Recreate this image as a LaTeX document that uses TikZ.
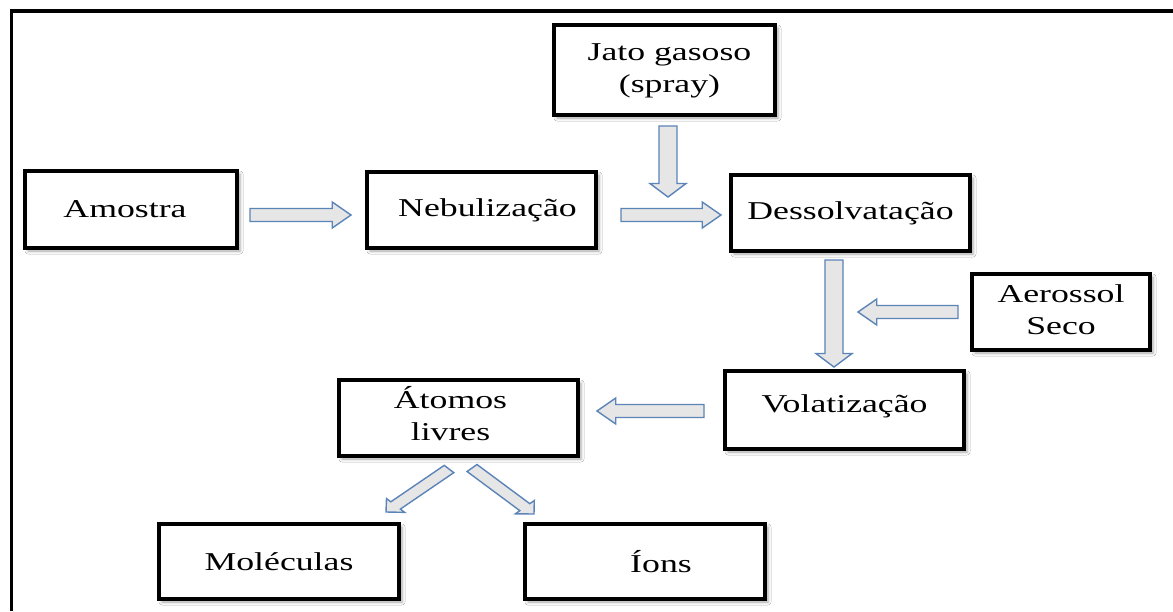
\documentclass[tikz,border=0pt]{standalone}
\usepackage{fontspec}
\usepackage{graphicx}
\setmainfont{Liberation Serif}
\usetikzlibrary{calc,shadows.blur}
\definecolor{arrowfill}{HTML}{E6E6E6}
\definecolor{arrowline}{HTML}{5B84B8}
\newcommand\wide[1]{\scalebox{1.39}[1]{#1}}
\tikzset{
  box/.style={draw=black, line width=4pt, fill=white,
    blur shadow={shadow xshift=3pt, shadow yshift=-3pt, shadow blur radius=3pt, shadow opacity=35},
    inner sep=0pt, font=\fontsize{25.7}{32}\selectfont},
  barrow/.style={fill=arrowfill, draw=arrowline, line width=1.4pt, line join=miter},
}
% #1 start, #2 end, #3 shaft half width, #4 head half width, #5 head length
\newcommand\blockarrow[5]{%
 \filldraw[barrow] let \p1=(#1), \p2=(#2),
  \n1={(\x2-\x1)/1.39}, \n2={\y2-\y1}, \n3={veclen(\n1,\n2)},
  \n4={(\n1)/(\n3)}, \n5={(\n2)/(\n3)}, \n6={\n3-(#5)} in
  ({\x1-1.39*(#3)*(\n5)}, {\y1+(#3)*(\n4)})
  -- ({\x1+1.39*((\n6)*(\n4)-(#3)*(\n5))}, {\y1+(\n6)*(\n5)+(#3)*(\n4)})
  -- ({\x1+1.39*((\n6)*(\n4)-(#4)*(\n5))}, {\y1+(\n6)*(\n5)+(#4)*(\n4)})
  -- (\p2)
  -- ({\x1+1.39*((\n6)*(\n4)+(#4)*(\n5))}, {\y1+(\n6)*(\n5)-(#4)*(\n4)})
  -- ({\x1+1.39*((\n6)*(\n4)+(#3)*(\n5))}, {\y1+(\n6)*(\n5)-(#3)*(\n4)})
  -- ({\x1+1.39*(#3)*(\n5)}, {\y1-(#3)*(\n4)}) -- cycle;}
\begin{document}
\begin{tikzpicture}[x=1pt,y=1pt]
\useasboundingbox (0,0) rectangle (1173,-611);
\fill[white] (0,0) rectangle (1173,-611);
\draw[line width=3.5pt] (11.5,-611) |- (1173,-11);

\node[box, minimum width=212, minimum height=77] (amostra) at (131,-209.5) {\wide{Amostra}\hspace*{12pt}};
\node[box, minimum width=229, minimum height=76] (nebul) at (481.5,-210) {\hspace*{12pt}\wide{Nebulização}};
\node[box, minimum width=221, minimum height=90] (jato) at (664.5,-70) {\hspace*{10pt}\wide{\begin{tabular}{@{}c@{}}Jato gasoso\\(spray)\end{tabular}}};
\node[box, minimum width=239, minimum height=76] (dess) at (850.5,-213) {\wide{Dessolvatação}};
\node[box, minimum width=178, minimum height=76] (aer) at (1061,-312) {\raisebox{-8pt}{\wide{\begin{tabular}{@{}c@{}}Aerossol\\Seco\end{tabular}}}};
\node[box, minimum width=239, minimum height=78] (vol) at (844.5,-410) {\raisebox{12pt}{\wide{Volatização}}};
\node[box, minimum width=239, minimum height=76] (atom) at (458.5,-418) {\wide{\begin{tabular}{@{}c@{}}Átomos\\livres\end{tabular}}\hspace*{16pt}};
\node[box, minimum width=240, minimum height=75] (mol) at (279,-561.5) {\wide{Moléculas}};
\node[box, minimum width=240, minimum height=75] (ions) at (645,-561.5) {\hspace*{32pt}\wide{Íons}};

\coordinate (a1s) at ($(amostra.east)+(11,-5.5)$);
\coordinate (a1e) at ($(nebul.west)+(-14,-5)$);
\coordinate (a2s) at ($(nebul.east)+(23,-5)$);
\coordinate (a2e) at ($(dess.west)+(-8,-2)$);
\coordinate (a3s) at ($(jato.south)+(3.5,-9)$);
\coordinate (a3e) at ($(jato.south)+(3.5,-80)$);
\coordinate (a4s) at ($(dess.south)+(-16.5,-7)$);
\coordinate (a4e) at ($(vol.north)+(-10.5,2)$);
\coordinate (a5s) at ($(aer.west)+(-12,0)$);
\coordinate (a5e) at ($(aer.west)+(-112,0)$);
\coordinate (a6s) at ($(vol.west)+(-19,-1)$);
\coordinate (a6e) at ($(atom.east)+(17,7)$);
\coordinate (a7s) at ($(atom.south)+(-9.5,-11)$);
\coordinate (a7e) at ($(mol.north)+(107,10)$);
\coordinate (a8s) at ($(atom.south)+(13.5,-10)$);
\coordinate (a8e) at ($(ions.north)+(-111,8)$);

\blockarrow{a1s}{a1e}{6.5}{13}{13.5}
\blockarrow{a2s}{a2e}{6.5}{13}{13.5}
\blockarrow{a3s}{a3e}{6.5}{13}{13.5}
\blockarrow{a4s}{a4e}{6.5}{13}{13.5}
\blockarrow{a5s}{a5e}{6.5}{13}{13.5}
\blockarrow{a6s}{a6e}{6.5}{13}{13.5}
\blockarrow{a7s}{a7e}{5}{9.5}{9.5}
\blockarrow{a8s}{a8e}{5}{9.5}{9.5}
\end{tikzpicture}
\end{document}
